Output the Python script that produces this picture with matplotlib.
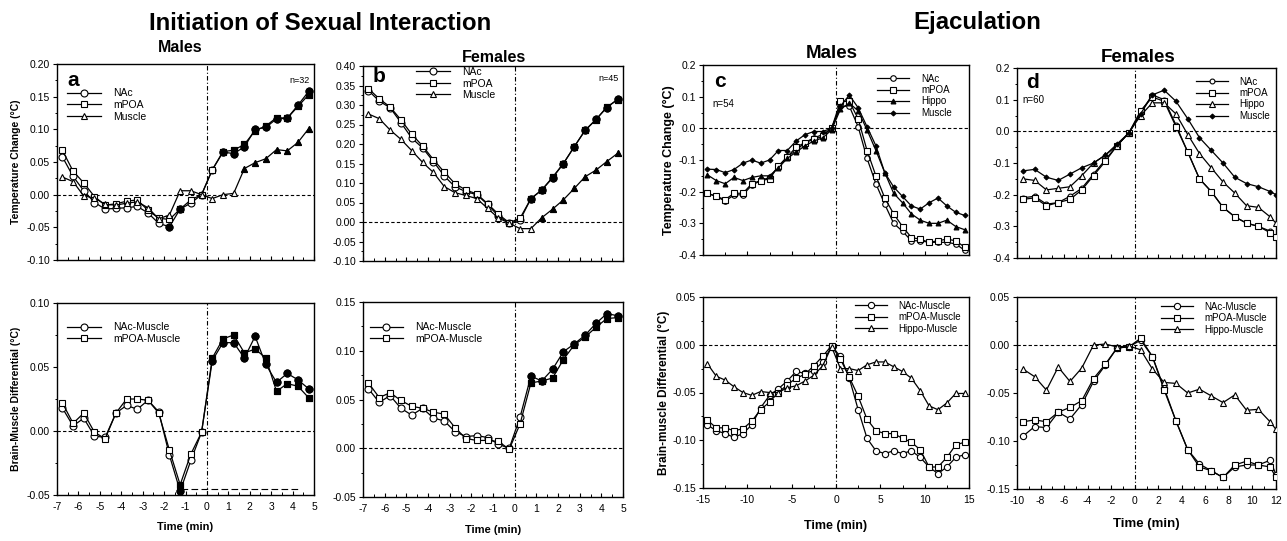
import matplotlib
matplotlib.use("Agg")
import matplotlib.pyplot as plt
import numpy as np
from matplotlib.ticker import MultipleLocator, FormatStrFormatter

plt.rcParams['font.family'] = ['Liberation Sans', 'DejaVu Sans']
plt.rcParams['axes.unicode_minus'] = False

# ---------------- data ----------------
# Panel a/b: time points every 0.5 min
t_ab = [-6.75, -6.25, -5.75, -5.25, -4.75, -4.25, -3.75, -3.25, -2.75, -2.25, -1.75, -1.25,
        -0.75, -0.25, 0.25, 0.75, 1.25, 1.75, 2.25, 2.75, 3.25, 3.75, 4.25, 4.75]

a_nac = [0.058, 0.028, 0.006, -0.012, -0.022, -0.021, -0.020, -0.018, -0.028, -0.044, -0.049, -0.022,
         -0.013, 0.000, 0.038, 0.065, 0.063, 0.073, 0.100, 0.103, 0.116, 0.117, 0.137, 0.158]
a_mpoa = [0.068, 0.036, 0.018, -0.003, -0.016, -0.014, -0.010, -0.008, -0.024, -0.036, -0.038, -0.022,
          -0.008, 0.000, 0.038, 0.066, 0.068, 0.077, 0.098, 0.105, 0.118, 0.117, 0.135, 0.153]
a_muscle = [0.027, 0.020, -0.002, -0.005, -0.015, -0.016, -0.013, -0.011, -0.020, -0.037, -0.031, 0.006,
            0.006, 0.000, -0.006, 0.000, 0.002, 0.040, 0.049, 0.055, 0.069, 0.067, 0.080, 0.101]
a_nac_sig = [10, 11] + list(range(15, 24))
a_mpoa_sig = [11] + list(range(15, 24))
a_muscle_sig = list(range(17, 24))

a_nac_diff = [0.018, 0.004, 0.010, -0.004, -0.005, 0.014, 0.020, 0.017, 0.024, 0.015, -0.019, -0.047,
              -0.023, -0.001, 0.055, 0.069, 0.069, 0.057, 0.074, 0.052, 0.038, 0.045, 0.040, 0.033]
a_mpoa_diff = [0.022, 0.006, 0.014, -0.001, -0.006, 0.014, 0.025, 0.025, 0.024, 0.014, -0.015, -0.042,
               -0.018, -0.001, 0.057, 0.072, 0.075, 0.061, 0.064, 0.057, 0.031, 0.037, 0.035, 0.026]
a_diff_sig = [11] + list(range(14, 24))
a_ref_level = -0.045
a_ref_span = [-1.2, 4.25]

b_nac = [0.337, 0.310, 0.293, 0.255, 0.215, 0.190, 0.155, 0.118, 0.090, 0.078, 0.070, 0.045,
         0.015, -0.003, 0.005, 0.060, 0.082, 0.113, 0.150, 0.193, 0.235, 0.263, 0.293, 0.315]
b_mpoa = [0.342, 0.316, 0.295, 0.262, 0.225, 0.195, 0.160, 0.128, 0.098, 0.082, 0.072, 0.047,
          0.020, -0.002, 0.010, 0.060, 0.082, 0.115, 0.150, 0.193, 0.235, 0.262, 0.295, 0.313]
b_muscle = [0.277, 0.265, 0.236, 0.212, 0.183, 0.153, 0.127, 0.091, 0.075, 0.068, 0.060, 0.035,
            0.010, -0.003, -0.017, -0.017, 0.011, 0.033, 0.057, 0.086, 0.116, 0.133, 0.155, 0.176]
b_brain_sig = list(range(15, 24))
b_muscle_sig = list(range(16, 24))

b_nac_diff = [0.061, 0.047, 0.054, 0.041, 0.034, 0.041, 0.031, 0.028, 0.017, 0.012, 0.013, 0.011,
              0.004, 0.000, 0.032, 0.074, 0.069, 0.081, 0.099, 0.107, 0.116, 0.128, 0.138, 0.136]
b_mpoa_diff = [0.067, 0.052, 0.057, 0.049, 0.043, 0.041, 0.037, 0.035, 0.021, 0.010, 0.008, 0.008,
               0.007, -0.001, 0.025, 0.067, 0.069, 0.072, 0.091, 0.106, 0.114, 0.124, 0.133, 0.134]
b_diff_sig = list(range(15, 24))

# Panel c: time every 1 min
t_c = [-14.5, -13.5, -12.5, -11.5, -10.5, -9.5, -8.5, -7.5, -6.5, -5.5, -4.5, -3.5, -2.5, -1.5, -0.5,
       0.5, 1.5, 2.5, 3.5, 4.5, 5.5, 6.5, 7.5, 8.5, 9.5, 10.5, 11.5, 12.5, 13.5, 14.5]
c_nac = [-0.205, -0.215, -0.230, -0.210, -0.210, -0.180, -0.165, -0.155, -0.120, -0.090, -0.070, -0.045,
         -0.030, -0.020, 0.000, 0.070, 0.070, 0.005, -0.095, -0.175, -0.240, -0.300, -0.325, -0.355,
         -0.355, -0.360, -0.360, -0.360, -0.365, -0.385]
c_mpoa = [-0.205, -0.215, -0.225, -0.205, -0.205, -0.175, -0.165, -0.160, -0.120, -0.090, -0.060, -0.045,
          -0.035, -0.025, 0.000, 0.085, 0.085, 0.030, -0.070, -0.150, -0.220, -0.270, -0.310, -0.345,
          -0.350, -0.360, -0.355, -0.350, -0.355, -0.375]
c_hippo = [-0.147, -0.165, -0.175, -0.155, -0.165, -0.155, -0.150, -0.150, -0.125, -0.095, -0.075, -0.055,
           -0.040, -0.030, -0.005, 0.060, 0.080, 0.055, -0.005, -0.070, -0.140, -0.205, -0.235, -0.270,
           -0.290, -0.300, -0.300, -0.290, -0.310, -0.320]
c_muscle = [-0.129, -0.130, -0.140, -0.130, -0.110, -0.100, -0.110, -0.100, -0.070, -0.070, -0.040, -0.020,
            -0.010, -0.010, 0.000, 0.070, 0.105, 0.065, 0.005, -0.055, -0.140, -0.185, -0.215, -0.245,
            -0.255, -0.235, -0.220, -0.245, -0.265, -0.275]

c_nac_diff = [-0.084, -0.090, -0.093, -0.097, -0.093, -0.084, -0.066, -0.053, -0.046, -0.038, -0.028, -0.030,
              -0.027, -0.018, -0.002, -0.012, -0.035, -0.068, -0.098, -0.111, -0.114, -0.111, -0.114,
              -0.111, -0.118, -0.128, -0.135, -0.128, -0.118, -0.115]
c_mpoa_diff = [-0.079, -0.087, -0.087, -0.090, -0.088, -0.080, -0.068, -0.060, -0.050, -0.042, -0.035, -0.031,
               -0.022, -0.012, -0.001, -0.015, -0.034, -0.054, -0.078, -0.090, -0.093, -0.093, -0.098,
               -0.102, -0.110, -0.128, -0.128, -0.118, -0.105, -0.102]
c_hippo_diff = [-0.020, -0.033, -0.037, -0.044, -0.050, -0.053, -0.049, -0.050, -0.050, -0.045, -0.043, -0.038,
                -0.032, -0.022, -0.002, -0.025, -0.025, -0.027, -0.021, -0.018, -0.018, -0.023, -0.028,
                -0.035, -0.048, -0.064, -0.068, -0.061, -0.051, -0.051]

# Panel d: time every 1 min (last value at the axis edge)
t_d = [-9.5, -8.5, -7.5, -6.5, -5.5, -4.5, -3.5, -2.5, -1.5, -0.5, 0.5, 1.5, 2.5, 3.5, 4.5, 5.5,
       6.5, 7.5, 8.5, 9.5, 10.5, 11.5, 12.0]
d_nac = [-0.210, -0.205, -0.230, -0.225, -0.205, -0.180, -0.135, -0.090, -0.045, -0.005, 0.060, 0.115,
         0.100, 0.020, -0.065, -0.150, -0.190, -0.240, -0.270, -0.290, -0.300, -0.315, -0.335]
d_mpoa = [-0.215, -0.210, -0.235, -0.225, -0.215, -0.185, -0.140, -0.095, -0.045, -0.005, 0.065, 0.108,
          0.095, 0.015, -0.065, -0.150, -0.190, -0.240, -0.270, -0.290, -0.300, -0.320, -0.335]
d_hippo = [-0.150, -0.155, -0.185, -0.180, -0.175, -0.140, -0.100, -0.075, -0.045, -0.005, 0.050, 0.090,
           0.090, 0.055, -0.010, -0.070, -0.115, -0.160, -0.195, -0.235, -0.240, -0.270, -0.290]
d_muscle = [-0.125, -0.120, -0.145, -0.155, -0.135, -0.115, -0.100, -0.075, -0.040, -0.005, 0.055, 0.115,
            0.130, 0.095, 0.040, -0.020, -0.060, -0.100, -0.145, -0.165, -0.175, -0.190, -0.200]

d_nac_diff = [-0.095, -0.085, -0.086, -0.070, -0.077, -0.062, -0.038, -0.021, -0.003, -0.002, 0.005, -0.012,
              -0.045, -0.079, -0.109, -0.124, -0.131, -0.138, -0.127, -0.125, -0.125, -0.120, -0.135]
d_mpoa_diff = [-0.080, -0.078, -0.080, -0.070, -0.065, -0.058, -0.035, -0.020, -0.003, -0.002, 0.007, -0.012,
               -0.047, -0.079, -0.109, -0.127, -0.131, -0.138, -0.125, -0.121, -0.125, -0.127, -0.138]
d_hippo_diff = [-0.025, -0.033, -0.047, -0.023, -0.038, -0.024, 0.000, 0.001, -0.002, -0.001, -0.005, -0.025,
                -0.039, -0.040, -0.050, -0.046, -0.053, -0.060, -0.052, -0.068, -0.067, -0.080, -0.088]

# ---------------- layout ----------------
W, H = 1287, 541
fig = plt.figure(figsize=(W / 100, H / 100), dpi=100)
fig.patch.set_facecolor('white')


def add_ax(l, t, r, b):
    return fig.add_axes([l / W, 1 - b / H, (r - l) / W, (b - t) / H])


def ftext(x, y, s, **kw):
    fig.text(x / W, 1 - y / H, s, **kw)


def style(ax, xlim, ylim, xmaj, xmin, ymaj, ymin, yfmt, xlabels=True, tick_fs=7.5):
    ax.set_xlim(*xlim)
    ax.set_ylim(*ylim)
    ax.xaxis.set_major_locator(MultipleLocator(xmaj))
    ax.xaxis.set_minor_locator(MultipleLocator(xmin))
    ax.yaxis.set_major_locator(MultipleLocator(ymaj))
    ax.yaxis.set_minor_locator(MultipleLocator(ymin))
    ax.yaxis.set_major_formatter(FormatStrFormatter(yfmt))
    ax.tick_params(axis='x', which='both', direction='in', labelsize=tick_fs, pad=5)
    ax.tick_params(axis='x', which='major', length=3, width=0.8)
    ax.tick_params(axis='x', which='minor', length=2, width=0.7)
    ax.tick_params(axis='y', which='both', direction='out', labelsize=tick_fs, pad=2)
    ax.tick_params(axis='y', which='major', length=3, width=0.8)
    ax.tick_params(axis='y', which='minor', length=1.5, width=0.7)
    if not xlabels:
        ax.tick_params(axis='x', labelbottom=False)
    for s in ax.spines.values():
        s.set_linewidth(1.0)
    ax.axhline(0, color='black', lw=0.8, ls=(0, (3, 2)), zorder=1)
    ax.axvline(0, color='black', lw=0.8, ls=(0, (4, 2, 1, 2)), zorder=1)


def series(ax, x, y, marker, label, ms=5, sig=(), filled_all=False, lw=0.9):
    face = 'black' if filled_all else 'white'
    ax.plot(x, y, color='black', lw=lw, marker=marker, ms=ms, mfc=face, mec='black',
            mew=0.8, label=label, zorder=3)
    if sig:
        xs = [x[i] for i in sig]
        ys = [y[i] for i in sig]
        ax.plot(xs, ys, ls='none', marker=marker, ms=ms, mfc='black', mec='black', mew=0.8, zorder=4)


def legend(ax, anchor, fs=7.5, hl=3.2):
    ax.legend(loc='upper left', bbox_to_anchor=anchor, frameon=False, fontsize=fs,
              handlelength=hl, handletextpad=1.2, labelspacing=0.15, borderaxespad=0,
              borderpad=0, numpoints=1)


# ---- panel a top
ax = add_ax(57, 64, 314, 260)
style(ax, (-7, 5), (-0.10, 0.20), 1, 0.5, 0.05, 0.025, '%.2f', xlabels=False)
series(ax, t_ab, a_nac, 'o', 'NAc', sig=a_nac_sig)
series(ax, t_ab, a_mpoa, 's', 'mPOA', sig=a_mpoa_sig)
series(ax, t_ab, a_muscle, '^', 'Muscle', ms=4.5, sig=a_muscle_sig)
legend(ax, (0.04, 0.875))
ax.set_ylabel('Temperature Change (°C)', fontsize=7.5, fontweight='bold', labelpad=4)
ax.text(0.04, 0.965, 'a', transform=ax.transAxes, fontsize=15, fontweight='bold', va='top')
ax.text(0.985, 0.94, 'n=32', transform=ax.transAxes, fontsize=6.5, ha='right', va='top')
ftext(180, 47, 'Males', fontsize=11.5, fontweight='bold', ha='center', va='center')

# ---- panel a bottom
ax = add_ax(57, 303, 314, 495)
style(ax, (-7, 5), (-0.05, 0.10), 1, 0.5, 0.05, 0.025, '%.2f')
series(ax, t_ab, a_nac_diff, 'o', 'NAc-Muscle', sig=a_diff_sig)
series(ax, t_ab, a_mpoa_diff, 's', 'mPOA-Muscle', sig=a_diff_sig)
ax.plot(a_ref_span, [a_ref_level, a_ref_level], color='black', lw=0.8, ls=(0, (6, 3)), zorder=2)
legend(ax, (0.04, 0.90))
ax.set_ylabel('Brain-Muscle Differential (°C)', fontsize=7.5, fontweight='bold', labelpad=4)
ax.set_xlabel('Time (min)', fontsize=8, fontweight='bold', labelpad=7)

# ---- panel b top
ax = add_ax(363, 66, 623, 261)
style(ax, (-7, 5), (-0.10, 0.40), 1, 0.5, 0.05, 0.025, '%.2f', xlabels=False)
series(ax, t_ab, b_nac, 'o', 'NAc', sig=b_brain_sig)
series(ax, t_ab, b_mpoa, 's', 'mPOA', sig=b_brain_sig)
series(ax, t_ab, b_muscle, '^', 'Muscle', ms=4.5, sig=b_muscle_sig)
legend(ax, (0.205, 0.995))
ax.text(0.035, 0.995, 'b', transform=ax.transAxes, fontsize=15, fontweight='bold', va='top')
ax.text(0.985, 0.96, 'n=45', transform=ax.transAxes, fontsize=6.5, ha='right', va='top')
ftext(494, 57, 'Females', fontsize=11.5, fontweight='bold', ha='center', va='center')

# ---- panel b bottom
ax = add_ax(363, 302, 623, 497)
style(ax, (-7, 5), (-0.05, 0.15), 1, 0.5, 0.05, 0.025, '%.2f')
series(ax, t_ab, b_nac_diff, 'o', 'NAc-Muscle', sig=b_diff_sig)
series(ax, t_ab, b_mpoa_diff, 's', 'mPOA-Muscle', sig=b_diff_sig)
legend(ax, (0.025, 0.895))
ax.set_xlabel('Time (min)', fontsize=8, fontweight='bold', labelpad=8)

# ---- panel c top
ax = add_ax(703, 65, 969, 255)
style(ax, (-15, 15), (-0.4, 0.2), 5, 2.5, 0.1, 0.05, '%.1f', xlabels=False)
series(ax, t_c, c_nac, 'o', 'NAc', ms=4)
series(ax, t_c, c_mpoa, 's', 'mPOA', ms=4)
series(ax, t_c, c_hippo, '^', 'Hippo', ms=3.5, filled_all=True)
series(ax, t_c, c_muscle, 'D', 'Muscle', ms=2.5, filled_all=True)
legend(ax, (0.655, 0.955), fs=7, hl=3.3)
ax.set_ylabel('Temperature Change (°C)', fontsize=9, fontweight='bold', labelpad=2)
ax.text(0.04, 0.965, 'c', transform=ax.transAxes, fontsize=15, fontweight='bold', va='top')
ax.text(0.035, 0.82, 'n=54', transform=ax.transAxes, fontsize=7, ha='left', va='top')
ftext(832, 54, 'Males', fontsize=13.5, fontweight='bold', ha='center', va='center')

# ---- panel c bottom
ax = add_ax(703, 297, 969, 488)
style(ax, (-15, 15), (-0.15, 0.05), 5, 2.5, 0.05, 0.025, '%.2f')
series(ax, t_c, c_nac_diff, 'o', 'NAc-Muscle', ms=4.5)
series(ax, t_c, c_mpoa_diff, 's', 'mPOA-Muscle', ms=4.5)
series(ax, t_c, c_hippo_diff, '^', 'Hippo-Muscle', ms=4.5)
legend(ax, (0.57, 0.98), fs=7, hl=3.3)
ax.set_ylabel('Brain-muscle Differential (°C)', fontsize=8.5, fontweight='bold', labelpad=2)
ax.set_xlabel('Time (min)', fontsize=9, fontweight='bold', labelpad=11)

# ---- panel d top
ax = add_ax(1017, 68, 1276, 258)
style(ax, (-10, 12), (-0.4, 0.2), 2, 1, 0.1, 0.05, '%.1f', xlabels=False)
series(ax, t_d, d_nac, 'o', 'NAc', ms=3.5)
series(ax, t_d, d_mpoa, 's', 'mPOA', ms=4.5)
series(ax, t_d, d_hippo, '^', 'Hippo', ms=5)
series(ax, t_d, d_muscle, 'D', 'Muscle', ms=2.5, filled_all=True)
legend(ax, (0.69, 0.955), fs=7, hl=3.3)
ax.text(0.035, 0.975, 'd', transform=ax.transAxes, fontsize=15, fontweight='bold', va='top')
ax.text(0.02, 0.86, 'n=60', transform=ax.transAxes, fontsize=7, ha='left', va='top')
ftext(1138, 57, 'Females', fontsize=13.5, fontweight='bold', ha='center', va='center')

# ---- panel d bottom
ax = add_ax(1017, 297, 1276, 489)
style(ax, (-10, 12), (-0.15, 0.05), 2, 1, 0.05, 0.025, '%.2f')
series(ax, t_d, d_nac_diff, 'o', 'NAc-Muscle', ms=4.5)
series(ax, t_d, d_mpoa_diff, 's', 'mPOA-Muscle', ms=4.5)
series(ax, t_d, d_hippo_diff, '^', 'Hippo-Muscle', ms=4.5)
legend(ax, (0.555, 0.975), fs=7, hl=3.3)
ax.set_xlabel('Time (min)', fontsize=9.5, fontweight='bold', labelpad=9)

# ---- main titles
ftext(320, 23, 'Initiation of Sexual Interaction', fontsize=17.3, fontweight='bold',
      ha='center', va='center')
ftext(977, 23, 'Ejaculation', fontsize=17.3, fontweight='bold', ha='center', va='center')

fig.savefig('out.png', dpi=100, facecolor='white')
